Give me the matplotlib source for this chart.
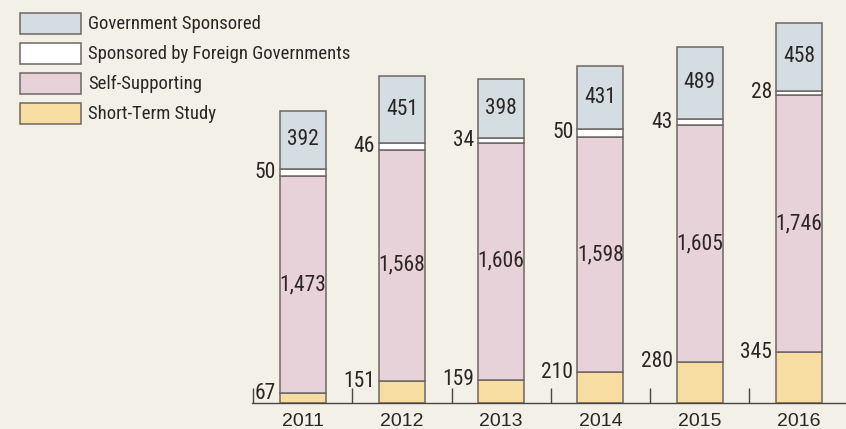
import matplotlib.pyplot as plt
import numpy as np

years = ["2011", "2012", "2013", "2014", "2015", "2016"]
short_term = [67, 151, 159, 210, 280, 345]
self_supporting = [1473, 1568, 1606, 1598, 1605, 1746]
foreign_gov = [50, 46, 34, 50, 43, 28]
government = [392, 451, 398, 431, 489, 458]

bg = "#f3f0e8"
edge = "#6e6664"
colors = {
    "Short-Term Study": "#f8dda2",
    "Self-Supporting": "#e8d2d9",
    "Sponsored by Foreign Governments": "#ffffff",
    "Government Sponsored": "#d4dde2",
}

# condensed face for the labels, first one found wins
num_font = ["Roboto Condensed", "Archivo Narrow", "PT Sans Narrow",
            "Liberation Sans Narrow", "DejaVu Sans"]
txt_col = "#2b2624"

W, H = 846, 429
fig = plt.figure(figsize=(W / 100, H / 100), dpi=100, facecolor=bg)
base_px = 403.3
ax = fig.add_axes([252 / W, (H - base_px) / H, (W - 252) / W, base_px / H])
ax.set_facecolor(bg)

x = np.arange(len(years))
width = 0.465
s = np.array(short_term)
p = np.array(self_supporting)
f = np.array(foreign_gov)
g = np.array(government)

series = [
    ("Short-Term Study", s, 0),
    ("Self-Supporting", p, s),
    ("Sponsored by Foreign Governments", f, s + p),
    ("Government Sponsored", g, s + p + f),
]
handles = {}
for name, vals, bottom in series:
    handles[name] = ax.bar(x, vals, width, bottom=bottom, color=colors[name],
                           edgecolor=edge, linewidth=1.1, label=name)

ax.set_xlim(-0.51, 5.474)
ax.set_ylim(0, 2734)

lab_kw = dict(fontfamily=num_font, fontsize=15.5, color=txt_col)
for i in range(len(years)):
    left = x[i] - width / 2 - 0.04
    ax.text(left, s[i], f"{s[i]:,}", ha="right", va="center", **lab_kw)
    ax.text(x[i], s[i] + p[i] / 2, f"{p[i]:,}", ha="center", va="center", **lab_kw)
    ax.text(left, s[i] + p[i] + f[i] / 2, f"{f[i]:,}", ha="right", va="center", **lab_kw)
    ax.text(x[i], s[i] + p[i] + f[i] + g[i] / 2, f"{g[i]:,}", ha="center",
            va="center", **lab_kw)

for sp in ["top", "right", "left"]:
    ax.spines[sp].set_visible(False)
ax.spines["bottom"].set_color("#4a4442")
ax.spines["bottom"].set_linewidth(1.0)
ax.set_yticks([])
ax.set_xticks(x)
ax.set_xticklabels(years, fontfamily=["Liberation Sans", "DejaVu Sans"],
                   fontsize=14, color=txt_col)
ax.tick_params(axis="x", which="major", length=0, pad=7)
ax.set_xticks(x - 0.5, minor=True)
ax.tick_params(axis="x", which="minor", direction="in", length=11,
               width=1.0, color="#4a4442")

order = ["Government Sponsored", "Sponsored by Foreign Governments",
         "Self-Supporting", "Short-Term Study"]
fig.legend([handles[k] for k in order], order, loc="upper left",
           bbox_to_anchor=(20 / W, 1 - 12.5 / H), frameon=False,
           prop={"family": num_font, "size": 13.5}, handlelength=3.25,
           handleheight=1.35, handletextpad=0.38, labelspacing=0.48,
           borderpad=0, borderaxespad=0, labelcolor=txt_col)

fig.savefig("out.png", dpi=100, facecolor=bg)
